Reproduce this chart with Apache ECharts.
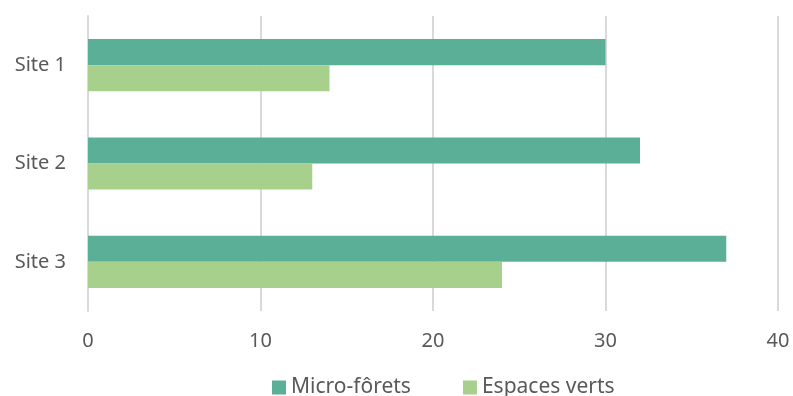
<!DOCTYPE html>
<html><head><meta charset="utf-8">
<script src="https://cdn.jsdelivr.net/npm/echarts@6/dist/echarts.min.js"></script>
<style>html,body{margin:0;padding:0;background:#fff}#c{width:793px;height:396px}</style>
</head><body><div id="c"></div>
<script>
var categories = ['Site 1', 'Site 2', 'Site 3'];
var microForets = [30, 32, 37];
var espacesVerts = [14, 13, 24];
var xTicks = [0, 10, 20, 30, 40];
var seriesNames = ['Micro-fôrets', 'Espaces verts'];

var chart = echarts.init(document.getElementById('c'), null, {renderer: 'canvas'});
var font = '"Noto Sans", "Open Sans", sans-serif';
chart.setOption({
  animation: false,
  grid: {left: 88, right: 15, top: 16, height: 295, containLabel: false},
  legend: {
    bottom: -2, left: 272, padding: 0,
    itemWidth: 14, itemHeight: 14, itemGap: 52,
    icon: 'rect',
    textStyle: {fontFamily: font, fontSize: 21, color: '#595959'},
    data: seriesNames
  },
  xAxis: {
    type: 'value', min: xTicks[0], max: xTicks[xTicks.length - 1], interval: 10,
    axisLine: {show: false}, axisTick: {show: false},
    axisLabel: {fontFamily: font, fontSize: 20, color: '#595959', margin: 20},
    splitLine: {lineStyle: {color: '#d9d9d9', width: 2}}
  },
  yAxis: {
    type: 'category', data: categories, inverse: true,
    axisLine: {lineStyle: {color: '#d9d9d9', width: 2}},
    axisTick: {show: false},
    axisLabel: {fontFamily: font, fontSize: 20, color: '#595959', margin: 22}
  },
  series: [
    {name: seriesNames[0], type: 'bar', data: microForets, itemStyle: {color: '#5BAF96'}, barGap: '0%', barCategoryGap: '47%'},
    {name: seriesNames[1], type: 'bar', data: espacesVerts, itemStyle: {color: '#A8D08D'}, barGap: '0%', barCategoryGap: '47%'}
  ]
});
</script></body></html>
